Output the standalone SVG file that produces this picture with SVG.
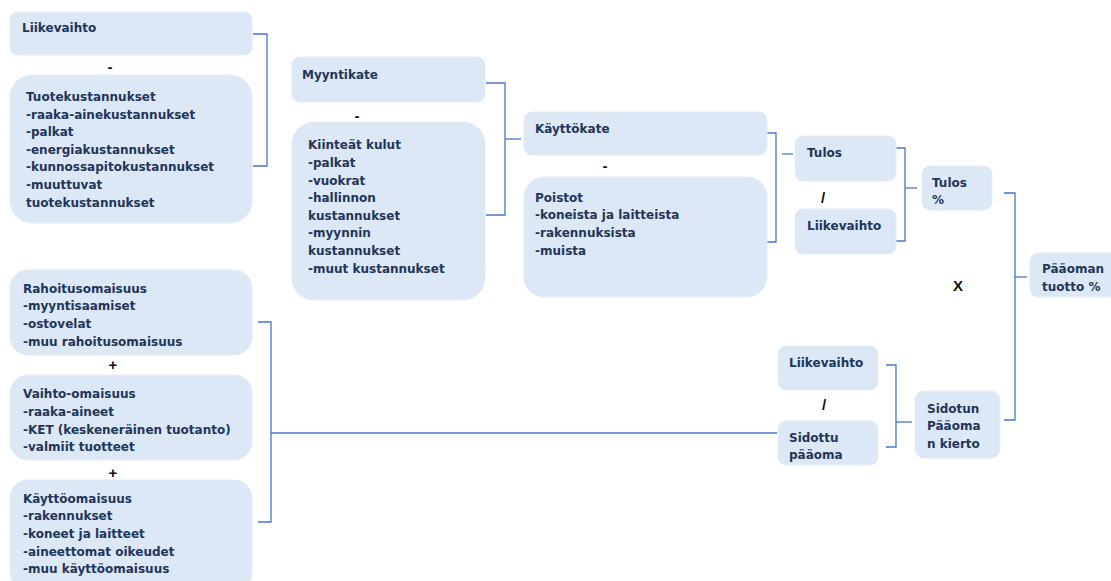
<svg xmlns="http://www.w3.org/2000/svg" width="1111" height="581" viewBox="0 0 1111 581">
  <style>
    .box { fill: #dce8f5; stroke: #e4edf8; stroke-width: 1; }
    .lbl { font-family: "DejaVu Sans", Verdana, sans-serif; font-weight: bold; font-size: 12px; fill: #22355a; }
    .op { font-family: "Liberation Sans", Arial, sans-serif; font-weight: bold; font-size: 15px; fill: #111; text-anchor: middle; }
    .conn { fill: none; stroke: #4a76c8; stroke-width: 1.3; }
  </style>
  <rect width="1111" height="581" fill="#ffffff"/>

  <!-- connectors -->
  <g id="connectors">
    <polyline class="conn" points="253,34 267,34 267,166 253,166"/>
    <polyline class="conn" points="486,83 505,83 505,215 486,215"/>
    <line class="conn" x1="505" y1="139" x2="521" y2="139"/>
    <polyline class="conn" points="767,133 776,133 776,242 767,242"/>
    <line class="conn" x1="782" y1="154" x2="793" y2="154"/>
    <polyline class="conn" points="896,148 905,148 905,241 896,241"/>
    <line class="conn" x1="905" y1="188" x2="917" y2="188"/>
    <polyline class="conn" points="1004,193 1015,193 1015,420 1004,420"/>
    <line class="conn" x1="1015" y1="277" x2="1027" y2="277"/>
    <polyline class="conn" points="886,365 896,365 896,447 886,447"/>
    <line class="conn" x1="896" y1="422" x2="912" y2="422"/>
    <polyline class="conn" points="258,322 271,322 271,522 258,522"/>
    <line class="conn" x1="271" y1="433" x2="777" y2="433"/>
  </g>

  <!-- operators between boxes -->
  <g id="operators">
    <text class="op" x="110" y="72">-</text>
    <text class="op" x="357" y="121">-</text>
    <text class="op" x="605" y="171">-</text>
    <text class="op" x="823" y="203">/</text>
    <text class="op" x="958" y="291">X</text>
    <text class="op" x="824" y="410">/</text>
    <text class="op" x="113" y="370">+</text>
    <text class="op" x="113" y="478">+</text>
  </g>

  <g id="liikevaihto1">
    <rect class="box" x="10" y="12" width="242" height="43" rx="8"/>
    <text class="lbl" x="22" y="32">Liikevaihto</text>
  </g>

  <g id="tuotekustannukset">
    <rect class="box" x="10" y="75" width="242" height="148" rx="22"/>
    <text class="lbl" x="26" y="101">Tuotekustannukset</text>
    <text class="lbl" x="26" y="118.6">-raaka-ainekustannukset</text>
    <text class="lbl" x="26" y="136.2">-palkat</text>
    <text class="lbl" x="26" y="153.8">-energiakustannukset</text>
    <text class="lbl" x="26" y="171.4">-kunnossapitokustannukset</text>
    <text class="lbl" x="26" y="189">-muuttuvat</text>
    <text class="lbl" x="26" y="206.6">tuotekustannukset</text>
  </g>

  <g id="myyntikate">
    <rect class="box" x="292" y="57" width="193" height="45" rx="8"/>
    <text class="lbl" x="302" y="79">Myyntikate</text>
  </g>

  <g id="kiinteat">
    <rect class="box" x="292" y="122" width="193" height="178" rx="22"/>
    <text class="lbl" x="308" y="149.3">Kiinteät kulut</text>
    <text class="lbl" x="308" y="166.9">-palkat</text>
    <text class="lbl" x="308" y="184.5">-vuokrat</text>
    <text class="lbl" x="308" y="202.1">-hallinnon</text>
    <text class="lbl" x="308" y="219.7">kustannukset</text>
    <text class="lbl" x="308" y="237.3">-myynnin</text>
    <text class="lbl" x="308" y="254.9">kustannukset</text>
    <text class="lbl" x="308" y="272.5">-muut kustannukset</text>
  </g>

  <g id="kayttokate">
    <rect class="box" x="524" y="112" width="243" height="43" rx="8"/>
    <text class="lbl" x="535" y="132.7">Käyttökate</text>
  </g>

  <g id="poistot">
    <rect class="box" x="524" y="177" width="243" height="120" rx="20"/>
    <text class="lbl" x="535" y="201.7">Poistot</text>
    <text class="lbl" x="535" y="219.3">-koneista ja laitteista</text>
    <text class="lbl" x="535" y="236.9">-rakennuksista</text>
    <text class="lbl" x="535" y="254.5">-muista</text>
  </g>

  <g id="tulos">
    <rect class="box" x="795" y="136" width="101" height="45" rx="8"/>
    <text class="lbl" x="807" y="156.7">Tulos</text>
  </g>

  <g id="liikevaihto2">
    <rect class="box" x="795" y="209" width="101" height="45" rx="8"/>
    <text class="lbl" x="807" y="230">Liikevaihto</text>
  </g>

  <g id="tulos-pros">
    <rect class="box" x="922" y="166" width="70" height="44" rx="8"/>
    <text class="lbl" x="932" y="186.7">Tulos</text>
    <text class="lbl" x="932" y="204.3">%</text>
  </g>

  <g id="paaoman-tuotto">
    <rect class="box" x="1030" y="253" width="90" height="44" rx="8"/>
    <text class="lbl" x="1042" y="273.3">Pääoman</text>
    <text class="lbl" x="1042" y="290.7">tuotto %</text>
  </g>

  <g id="liikevaihto3">
    <rect class="box" x="778" y="346" width="100" height="44" rx="8"/>
    <text class="lbl" x="789" y="366.7">Liikevaihto</text>
  </g>

  <g id="sidottu-paaoma">
    <rect class="box" x="778" y="421" width="100" height="44" rx="8"/>
    <text class="lbl" x="789" y="441.7">Sidottu</text>
    <text class="lbl" x="789" y="459.3">pääoma</text>
  </g>

  <g id="sidotun-kierto">
    <rect class="box" x="915" y="391" width="85" height="67" rx="9"/>
    <text class="lbl" x="927" y="412.7">Sidotun</text>
    <text class="lbl" x="927" y="430.3">Pääoma</text>
    <text class="lbl" x="927" y="447.9">n kierto</text>
  </g>

  <g id="rahoitusomaisuus">
    <rect class="box" x="10" y="270" width="242" height="85" rx="18"/>
    <text class="lbl" x="23" y="292.7">Rahoitusomaisuus</text>
    <text class="lbl" x="23" y="310.3">-myyntisaamiset</text>
    <text class="lbl" x="23" y="327.9">-ostovelat</text>
    <text class="lbl" x="23" y="345.5">-muu rahoitusomaisuus</text>
  </g>

  <g id="vaihto-omaisuus">
    <rect class="box" x="10" y="375" width="242" height="85" rx="18"/>
    <text class="lbl" x="23" y="398.3">Vaihto-omaisuus</text>
    <text class="lbl" x="23" y="415.9">-raaka-aineet</text>
    <text class="lbl" x="23" y="433.5">-KET (keskeneräinen tuotanto)</text>
    <text class="lbl" x="23" y="451.1">-valmiit tuotteet</text>
  </g>

  <g id="kayttoomaisuus">
    <rect class="box" x="10" y="480" width="242" height="110" rx="18"/>
    <text class="lbl" x="23" y="502.7">Käyttöomaisuus</text>
    <text class="lbl" x="23" y="520.3">-rakennukset</text>
    <text class="lbl" x="23" y="537.9">-koneet ja laitteet</text>
    <text class="lbl" x="23" y="555.5">-aineettomat oikeudet</text>
    <text class="lbl" x="23" y="573.1">-muu käyttöomaisuus</text>
  </g>
</svg>
